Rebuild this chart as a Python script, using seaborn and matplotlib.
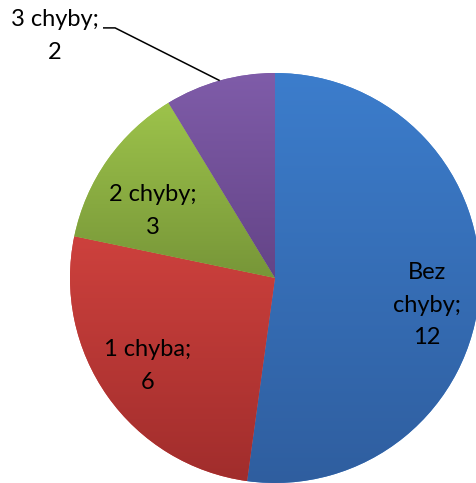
import numpy as np
import matplotlib
matplotlib.use("Agg")
import matplotlib.pyplot as plt
import seaborn as sns
from matplotlib.colors import LinearSegmentedColormap

# data
categories = ["Bez chyby", "1 chyba", "2 chyby", "3 chyby"]
counts = [12, 6, 3, 2]
top_colors = ["#3C7DCC", "#CD413D", "#9DC34B", "#7F5CA9"]
bottom_colors = ["#2F5E9F", "#A12D2C", "#779638", "#644487"]

sns.set_theme(style="white")
plt.rcParams['font.family'] = ['Lato', 'DejaVu Sans']

fig = plt.figure(figsize=(4.76, 4.83), dpi=100)
ax = fig.add_axes([0, 0, 1, 1])

# flat wedges first (clockwise from 12 o'clock), then gradient fills clipped to each
wedges, _ = ax.pie(counts, startangle=90, counterclock=False, radius=1.0,
                   colors=top_colors, wedgeprops=dict(linewidth=0))

grad = np.linspace(0, 1, 256).reshape(-1, 1)
for w, ct, cb in zip(wedges, top_colors, bottom_colors):
    verts = w.get_path().vertices
    x0, x1 = verts[:, 0].min(), verts[:, 0].max()
    y0, y1 = verts[:, 1].min(), verts[:, 1].max()
    cmap = LinearSegmentedColormap.from_list("g", [ct, cb])
    im = ax.imshow(grad, cmap=cmap, extent=[x0, x1, y0, y1], origin="upper",
                   aspect="auto", zorder=2, interpolation="bilinear")
    im.set_clip_path(w)

# labels
lab_kw = dict(ha="center", va="center", fontsize=17, color="black",
              linespacing=1.7, zorder=5)
ax.text(0.742, -0.132, "Bez\nchyby;\n%d" % counts[0], **lab_kw)
ax.text(-0.62, -0.43, "%s;\n%d" % (categories[1], counts[1]), **lab_kw)
ax.text(-0.595, 0.327, "%s;\n%d" % (categories[2], counts[2]), **lab_kw)
ax.text(-1.073, 1.18, "%s;\n%d" % (categories[3], counts[3]), **lab_kw)

# leader line for the small slice
total = sum(counts)
mid = np.deg2rad(90 + 360 * (counts[3] / total) / 2)
ax.plot([-0.839, -0.78, np.cos(mid)], [1.22, 1.22, np.sin(mid)],
        color="black", lw=1.1, zorder=5, solid_capstyle="butt")

ax.set_xlim(-275 / 205, (476 - 275) / 205)
ax.set_ylim(-(483 - 278) / 205, 278 / 205)
ax.set_aspect("auto")
ax.axis("off")

fig.savefig("out.png", dpi=100)
